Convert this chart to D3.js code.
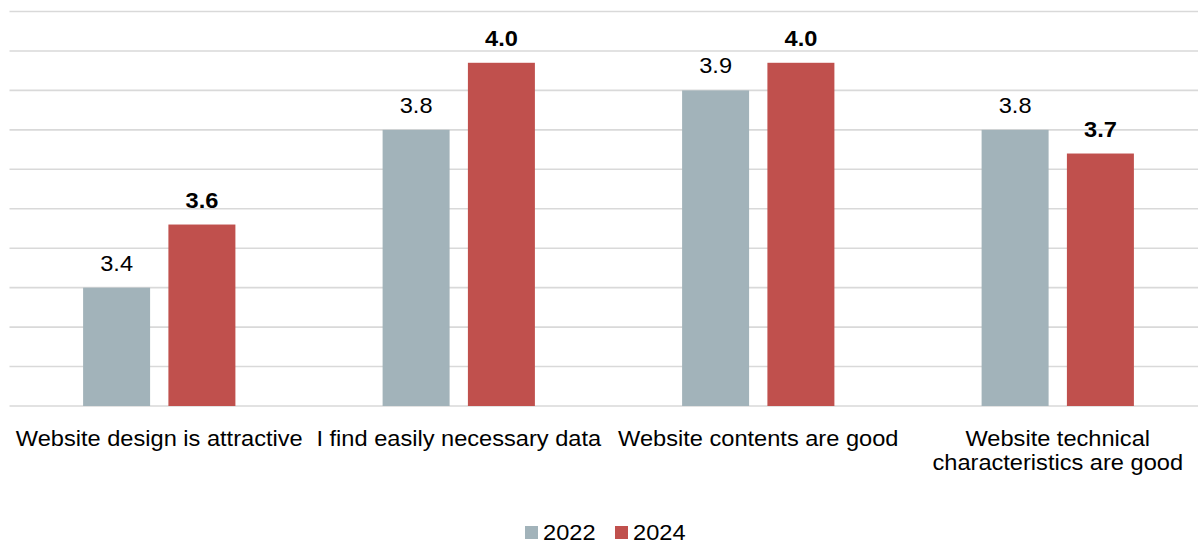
<!DOCTYPE html>
<html>
<head>
<meta charset="utf-8">
<script src="https://cdn.jsdelivr.net/npm/d3@7"></script>
<style>
  html, body { margin: 0; padding: 0; background: #fff; }
  svg { display: block; font-family: "Liberation Sans", Arial, sans-serif; }
</style>
</head>
<body>
<svg id="chart" width="1198" height="543"></svg>
<script>
const categories = [
  ["Website design is attractive"],
  ["I find easily necessary data"],
  ["Website contents are good"],
  ["Website technical", "characteristics are good"]
];
const seriesNames = ["2022", "2024"];
const values2022 = [3.4, 3.8, 3.9, 3.8];
const values2024 = [3.56, 3.97, 3.97, 3.74];
const gridValues = [3.1, 3.2, 3.3, 3.4, 3.5, 3.6, 3.7, 3.8, 3.9, 4.0, 4.1];
const colors = ["#A2B3BA", "#C0504D"];

(function () {
const svg = d3.select("#chart");
const W = 1198;
const plotLeft = 9.5, plotRight = 1207.5, plotTop = 11.5, plotBottom = 406;
const sx = 1.05; // horizontal text stretch seen in the reference

const y = d3.scaleLinear().domain([3.1, 4.1]).range([plotBottom, plotTop]);
const catIdx = categories.map((d, i) => i);
const x0 = d3.scaleBand().domain(catIdx).range([plotLeft, plotRight]).padding(0);
const groupW = 152.3;
const x1 = d3.scaleBand().domain(seriesNames).range([0, groupW]).paddingInner(0.2146).paddingOuter(0);

// gridlines
svg.append("g").selectAll("line").data(gridValues).join("line")
  .attr("x1", plotLeft).attr("x2", W)
  .attr("y1", d => y(d)).attr("y2", d => y(d))
  .attr("stroke", "#d9d9d9").attr("stroke-width", 1.6);

const seriesData = [values2022, values2024];
const groupStart = i => x0(i) + x0.bandwidth() / 2 - groupW / 2;

seriesNames.forEach((s, si) => {
  const vals = seriesData[si];
  svg.append("g").selectAll("rect").data(vals).join("rect")
    .attr("x", (d, i) => groupStart(i) + x1(s))
    .attr("width", x1.bandwidth())
    .attr("y", d => y(d))
    .attr("height", d => plotBottom - y(d))
    .attr("fill", colors[si]);
  svg.append("g").selectAll("text").data(vals).join("text")
    .attr("transform", (d, i) => `translate(${groupStart(i) + x1(s) + x1.bandwidth() / 2},${y(d) - 17}) scale(${sx},1)`)
    .attr("text-anchor", "middle")
    .attr("font-size", "22.5px")
    .attr("font-weight", si === 1 ? "bold" : "normal")
    .attr("fill", "#000")
    .text(d => d3.format(".1f")(d));
});

// category labels
const catG = svg.append("g");
categories.forEach((lines, i) => {
  const cx = x0(i) + x0.bandwidth() / 2;
  const t = catG.append("text")
    .attr("transform", `translate(${cx},446) scale(${sx},1)`)
    .attr("text-anchor", "middle")
    .attr("font-size", "22.5px")
    .attr("fill", "#000");
  lines.forEach((ln, li) => {
    t.append("tspan").attr("x", 0)
      .attr("dy", li === 0 ? 0 : 24).text(ln);
  });
});

// legend
const legendX = [525, 615];
const leg = svg.append("g");
seriesNames.forEach((s, si) => {
  leg.append("rect").attr("x", legendX[si]).attr("y", 526)
    .attr("width", 13).attr("height", 13).attr("fill", colors[si]);
  leg.append("text")
    .attr("transform", `translate(${legendX[si] + 18},539.5) scale(${sx},1)`)
    .attr("font-size", "22.5px").attr("fill", "#000").text(s);
});
})();
</script>
</body>
</html>
